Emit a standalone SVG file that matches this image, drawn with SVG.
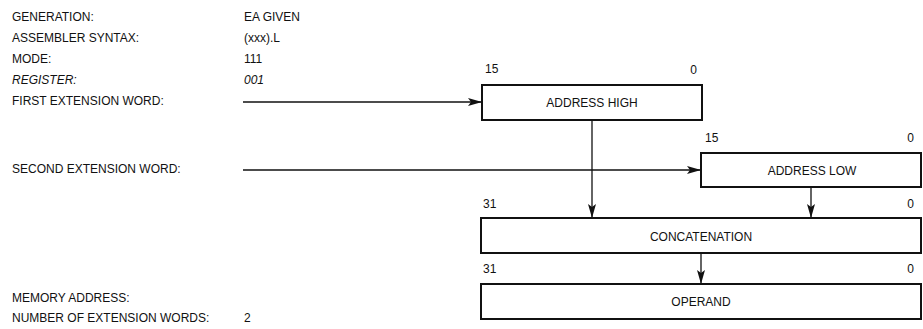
<svg xmlns="http://www.w3.org/2000/svg" width="923" height="329" viewBox="0 0 923 329">
<style>
text{font-family:"Liberation Sans",Arial,sans-serif;font-size:12px;fill:#111}
.it{font-style:italic}
.mid{text-anchor:middle}
.end{text-anchor:end}
.box{fill:#fff;stroke:#111;stroke-width:2}
.con{fill:none;stroke:#111;stroke-width:1.3}
</style>
<defs>
<marker id="ah" markerUnits="userSpaceOnUse" markerWidth="14" markerHeight="8" refX="14" refY="4" orient="auto">
<path d="M0,0 L14,4 L0,8 L3,4 Z" fill="#111"/>
</marker>
</defs>
<g id="info">
<text x="12" y="21">GENERATION:</text>
<text x="12" y="42">ASSEMBLER SYNTAX:</text>
<text x="12" y="63">MODE:</text>
<text x="12" y="84" class="it">REGISTER:</text>
<text x="12" y="105">FIRST EXTENSION WORD:</text>
<text x="12" y="173">SECOND EXTENSION WORD:</text>
<text x="12" y="302">MEMORY ADDRESS:</text>
<text x="12" y="322">NUMBER OF EXTENSION WORDS:</text>
<text x="244" y="21">EA GIVEN</text>
<text x="244" y="42">(xxx).L</text>
<text x="244" y="63">111</text>
<text x="244" y="84" class="it">001</text>
<text x="244" y="322">2</text>
</g>
<g id="connectors">
<line class="con" x1="243" y1="102" x2="482" y2="102" marker-end="url(#ah)"/>
<line class="con" x1="243" y1="170" x2="701" y2="170" marker-end="url(#ah)"/>
<line class="con" x1="592" y1="120" x2="592" y2="218" marker-end="url(#ah)"/>
<line class="con" x1="811" y1="187" x2="811" y2="218" marker-end="url(#ah)"/>
<line class="con" x1="701" y1="253" x2="701" y2="284" marker-end="url(#ah)"/>
</g>
<g id="address-high">
<rect class="box" x="482" y="85" width="220" height="35"/>
<text x="592" y="107" class="mid">ADDRESS HIGH</text>
<text x="485" y="73">15</text>
<text x="697" y="74" class="end">0</text>
</g>
<g id="address-low">
<rect class="box" x="701" y="153" width="220" height="34"/>
<text x="812" y="175" class="mid">ADDRESS LOW</text>
<text x="705" y="142">15</text>
<text x="914" y="142" class="end">0</text>
</g>
<g id="concatenation">
<rect class="box" x="481" y="218" width="440" height="35"/>
<text x="701" y="241" class="mid">CONCATENATION</text>
<text x="483" y="208">31</text>
<text x="914" y="208" class="end">0</text>
</g>
<g id="operand">
<rect class="box" x="481" y="284" width="440" height="35"/>
<text x="701" y="306" class="mid">OPERAND</text>
<text x="483" y="273">31</text>
<text x="914" y="273" class="end">0</text>
</g>
</svg>
